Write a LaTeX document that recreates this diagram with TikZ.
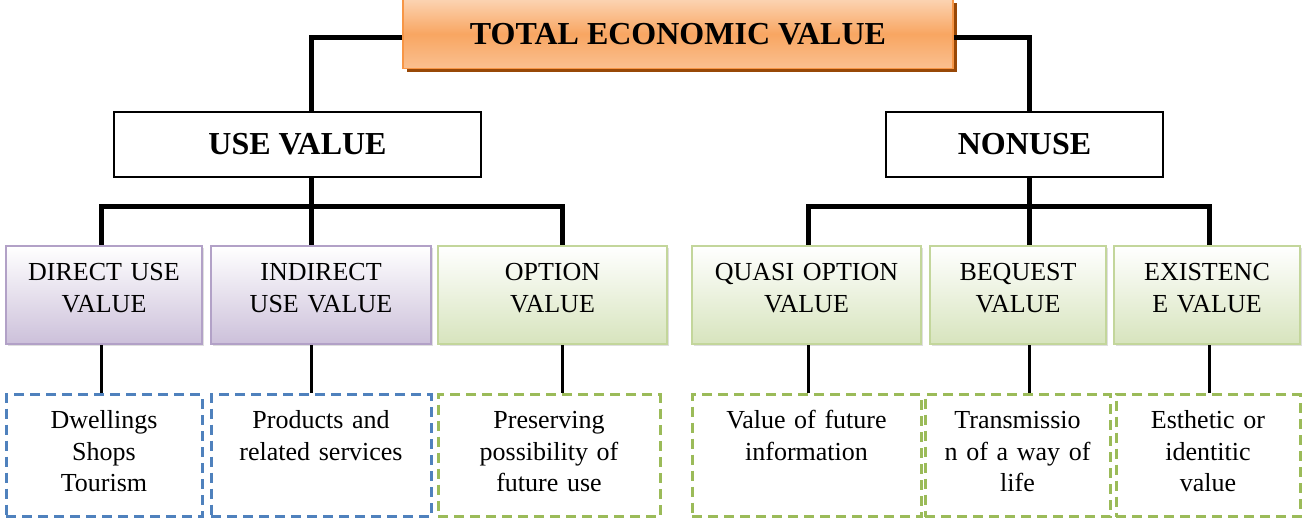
\documentclass[tikz,border=0pt]{standalone}
\usepackage{fontspec}
\setmainfont{Liberation Serif}
\usetikzlibrary{shadows}
\definecolor{tevorange}{HTML}{F79646}
\definecolor{tevlight}{HTML}{FAC090}
\definecolor{tevshadow}{HTML}{984807}
\definecolor{usepurple}{HTML}{CCC0DA}
\definecolor{useborder}{HTML}{B2A1C7}
\definecolor{nongreen}{HTML}{D7E4BD}
\definecolor{nonborder}{HTML}{C3D69B}
\definecolor{dashblue}{HTML}{4F81BD}
\definecolor{dashgreen}{HTML}{9BBB59}

\begin{document}
\begin{tikzpicture}[x=1pt,y=-1pt,
  link/.style={line width=5pt},
  sublink/.style={line width=3pt},
  tevbox/.style={draw=tevorange, line width=1.5pt, top color=tevlight!70!white,
    bottom color=tevlight, middle color=tevorange!85!white,
    drop shadow={shadow xshift=4pt, shadow yshift=-4pt, fill=tevshadow, opacity=1},
    minimum width=550pt, minimum height=69pt, inner sep=0pt,
    font=\fontsize{32}{36}\selectfont\bfseries},
  kindbox/.style={draw, line width=1.8pt, fill=white, minimum height=65pt, inner sep=0pt,
    font=\fontsize{32}{36}\selectfont\bfseries},
  valbox/.style={line width=2.5pt, inner xsep=4pt, inner ysep=0pt, align=center,
    text height=34pt, text depth=64pt,
    drop shadow={shadow xshift=2pt, shadow yshift=-2pt, opacity=0.25},
    font=\fontsize{26}{32}\selectfont},
  usebox/.style={valbox, draw=useborder, top color=white, bottom color=usepurple},
  nonbox/.style={valbox, draw=nonborder, top color=white, bottom color=nongreen},
  leafbox/.style={line width=3pt, dash pattern=on 10pt off 6pt, inner xsep=4pt,
    inner ysep=0pt, align=center, text height=34pt, text depth=88pt,
    font=\fontsize{26}{31.5}\selectfont},
  useleaf/.style={leafbox, draw=dashblue},
  nonleaf/.style={leafbox, draw=dashgreen}]
\useasboundingbox (0,0) rectangle (1303,518);

%%Heads
\node[tevbox] (tev) at (678,34) {TOTAL ECONOMIC VALUE};
\node[kindbox, minimum width=367pt] (use) at (297.5,144.5) {USE VALUE};
\node[kindbox, minimum width=277pt] (non) at (1024.5,144.5) {NONUSE};

%%Value types
\node[usebox, text width=188pt] (m1) at (104,245) [anchor=north] {DIRECT USE\\VALUE};
\node[usebox, text width=212pt] (m2) at (321,245) [anchor=north] {INDIRECT\\USE VALUE};
\node[nonbox, text width=221pt] (m3) at (552.5,245) [anchor=north] {OPTION\\VALUE};
\node[nonbox, text width=221pt] (m4) at (806.5,245) [anchor=north] {QUASI OPTION\\VALUE};
\node[nonbox, text width=168pt] (m5) at (1018,245) [anchor=north] {BEQUEST\\VALUE};
\node[nonbox, text width=178pt] (m6) at (1207,245) [anchor=north] {EXISTENC\\E VALUE};

%%Examples
\node[useleaf, text width=188pt] (l1) at (104,393) [anchor=north] {Dwellings\\Shops\\Tourism};
\node[useleaf, text width=212pt] (l2) at (321,393) [anchor=north] {Products and\\related services};
\node[nonleaf, text width=214pt] (l3) at (549,393) [anchor=north] {Preserving\\possibility of\\future use};
\node[nonleaf, text width=221pt] (l4) at (806.5,393) [anchor=north] {Value of future\\information};
\node[nonleaf, text width=177pt] (l5) at (1017.5,393) [anchor=north] {Transmissio\\n of a way of\\life};
\node[nonleaf, text width=176pt] (l6) at (1208,393) [anchor=north] {Esthetic or\\identitic\\value};

%%Junctions
\coordinate (c1) at (101,207);
\coordinate (c2) at (311,207);
\coordinate (c3) at (562,207);
\coordinate (c4) at (808,207);
\coordinate (c5) at (1029,207);
\coordinate (c6) at (1209,207);

%%Links
\draw[link] ([yshift=-4pt]tev.west) -| (use.north -| c2);
\draw[link] ([yshift=-4pt]tev.east) -| (non.north -| c5);
\draw[link] (use.south -| c2) -- (m2.north -| c2);
\draw[link] (m1.north -| c1) -- (c1) -- (c3) -- (m3.north -| c3);
\draw[link] (non.south -| c5) -- (m5.north -| c5);
\draw[link] (m4.north -| c4) -- (c4) -- (c6) -- (m6.north -| c6);
\foreach \i in {1,...,6}
  \draw[sublink] (m\i.south -| c\i) -- (l\i.north -| c\i);
\end{tikzpicture}
\end{document}
